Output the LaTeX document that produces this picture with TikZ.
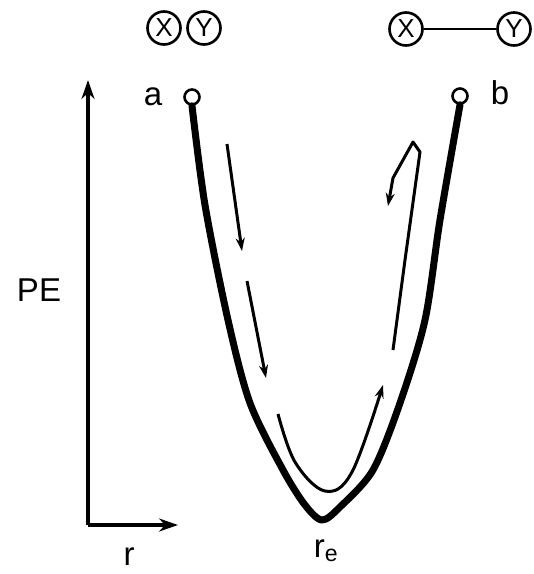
\documentclass[tikz,border=0pt]{standalone}
\usepackage{fontspec}
\setmainfont{Liberation Sans}
\usetikzlibrary{arrows.meta}
\begin{document}
\begin{tikzpicture}[x=1pt,y=-1pt,
  lbl/.style={font=\fontsize{33}{36}\selectfont, inner sep=0pt},
  atom/.style={circle,draw,line width=2.6pt,minimum size=33pt,inner sep=0pt,font=\fontsize{26}{28}\selectfont},
  endpt/.style={circle,draw,fill=white,line width=2.6pt,minimum size=15pt,inner sep=0pt},
  well/.style={line width=7pt,line join=round,line cap=round},
  path/.style={line width=3pt,-{Stealth[length=13pt,width=9pt]}},
  axis/.style={line width=3.2pt,-{Stealth[length=19pt,width=13pt]}}]
\useasboundingbox (0,0) rectangle (534,574);

% axes
\coordinate (o) at (88,525);
\coordinate (ytop) at (88,80);
\coordinate (xend) at (178,525);
\draw[axis] (o) -- (ytop);
\draw[axis] (o) -- (xend);
\node[lbl] (pe) at (39,290) {PE};
\node[lbl] (r) at (129,557) {r};
\node[lbl] (re) at (326,551) {r\textsubscript{e}};

% separated atoms and bonded molecule
\node[atom] (x1) at (164,28) {X};
\node[atom] (y1) at (204,28) {Y};
\node[atom] (x2) at (406,29) {X};
\node[atom] (y2) at (514,29) {Y};
\draw[line width=2.6pt] (x2) -- (y2);

% potential energy well
\node[endpt] (pa) at (192,97) {};
\node[endpt] (pb) at (460,96) {};
\node[lbl] (la) at (153,97) {a};
\node[lbl] (lb) at (500,93) {b};
\draw[well] plot[smooth,tension=0.5] coordinates {(pa.south) (205,205) (228,320) (250,403) (283,470) (305,505) (322,520) (340,507) (373,470) (400,403) (425,320) (440,220) (pb.south)};

% motion arrows
\coordinate (m1s) at (227,144);
\coordinate (m1e) at (242,251);
\coordinate (m2s) at (247,281);
\coordinate (m2e) at (266,378);
\draw[path] (m1s) -- (m1e);
\draw[path] (m2s) -- (m2e);
\coordinate (m3s) at (278,414);
\coordinate (m3e) at (383,385);
\draw[path] plot[smooth,tension=0.6] coordinates {(m3s) (295,462) (325,491) (352,472) (m3e)};
\coordinate (m4s) at (393,350);
\coordinate (m4e) at (388,206);
\draw[path,line join=round] (m4s) -- (405,260) -- (420,152) -- (413,142) -- (393,178) -- (m4e);
\end{tikzpicture}
\end{document}
